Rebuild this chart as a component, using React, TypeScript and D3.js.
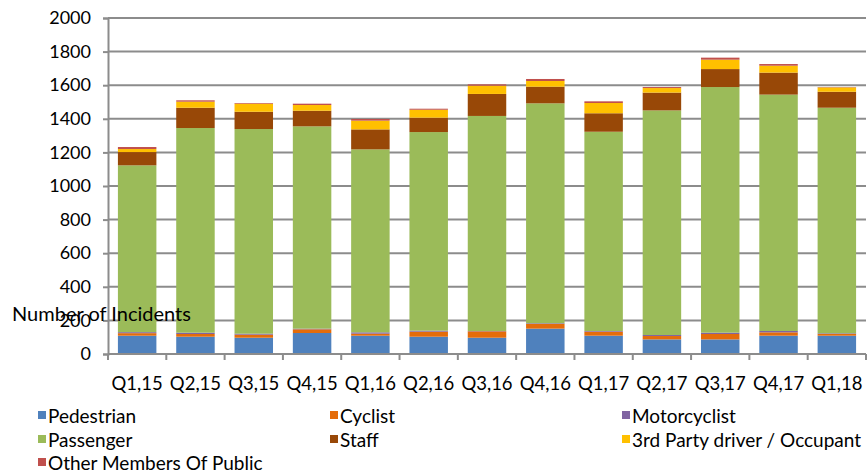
import React, { useRef, useEffect } from 'react';
import * as d3 from 'd3';

const quarters = ['Q1,15', 'Q2,15', 'Q3,15', 'Q4,15', 'Q1,16', 'Q2,16', 'Q3,16', 'Q4,16', 'Q1,17', 'Q2,17', 'Q3,17', 'Q4,17', 'Q1,18'];

const pedestrian = [109, 103, 97, 125, 109, 103, 97, 151, 109, 87, 87, 109, 109];
const cyclist = [15, 16, 18, 22, 12, 30, 38, 28, 24, 20, 32, 20, 10];
const motorcyclist = [6, 8, 6, 4, 8, 6, 2, 4, 4, 6, 8, 8, 4];
const passenger = [993, 1218, 1218, 1204, 1089, 1182, 1280, 1309, 1186, 1337, 1462, 1407, 1343];
const staff = [79, 121, 103, 93, 119, 86, 131, 99, 110, 106, 107, 131, 95];
const thirdParty = [18, 36, 48, 34, 52, 47, 49, 34, 61, 27, 56, 41, 26];
const otherPublic = [12, 8, 4, 8, 10, 6, 8, 12, 10, 6, 12, 10, 2];

const seriesNames = ['Pedestrian', 'Cyclist', 'Motorcyclist', 'Passenger', 'Staff', '3rd Party driver / Occupant', 'Other Members Of Public'];
const seriesValues = [pedestrian, cyclist, motorcyclist, passenger, staff, thirdParty, otherPublic];
const seriesColors = ['#4F81BD', '#E46C0A', '#8064A2', '#9BBB59', '#984807', '#FFC000', '#C0504D'];

const yTicks = [0, 200, 400, 600, 800, 1000, 1200, 1400, 1600, 1800, 2000];

const W = 868;
const H = 473;
const FONT = 'Lato, "Open Sans", sans-serif';

const App = () => {
  const ref = useRef<SVGSVGElement>(null);

  useEffect(() => {
    const svg = d3.select(ref.current);
    svg.selectAll('*').remove();

    const left = 108, right = 866, top = 18, bottom = 354;

    const x = d3.scaleBand().domain(quarters).range([left, right]).paddingInner(0.34).paddingOuter(0.17);
    const y = d3.scaleLinear().domain([0, 2000]).range([bottom, top]);

    // gridlines
    svg.append('g')
      .selectAll('line')
      .data(yTicks.slice(1))
      .enter().append('line')
      .attr('x1', left).attr('x2', right)
      .attr('y1', d => y(d)).attr('y2', d => y(d))
      .attr('stroke', '#8c8c8c').attr('stroke-width', 2);

    // stacked bars
    const rows = quarters.map((q, i) => {
      const r: any = { q };
      seriesNames.forEach((n, s) => { r[n] = seriesValues[s][i]; });
      return r;
    });
    const stacked = d3.stack().keys(seriesNames)(rows);

    svg.append('g')
      .selectAll('g')
      .data(stacked)
      .enter().append('g')
      .attr('fill', (d, i) => seriesColors[i])
      .selectAll('rect')
      .data(d => d)
      .enter().append('rect')
      .attr('x', (d: any) => x(d.data.q)!)
      .attr('width', x.bandwidth())
      .attr('y', d => y(d[1]))
      .attr('height', d => y(d[0]) - y(d[1]));

    // y axis
    const yAxis = svg.append('g')
      .attr('transform', `translate(${left},0)`)
      .call(d3.axisLeft(y).tickValues(yTicks).tickFormat(d3.format('d')).tickSize(5).tickPadding(12));
    yAxis.select('.domain').attr('stroke', '#8c8c8c').attr('stroke-width', 2);
    yAxis.selectAll('.tick line').attr('stroke', '#8c8c8c').attr('stroke-width', 2);
    yAxis.selectAll('.tick text').attr('font-family', FONT).attr('font-size', 18).attr('fill', '#000');

    // x axis
    const xg = svg.append('g');
    xg.append('line')
      .attr('x1', left).attr('x2', right)
      .attr('y1', bottom).attr('y2', bottom)
      .attr('stroke', '#8c8c8c').attr('stroke-width', 2);
    const step = x.step();
    xg.selectAll('line.tk')
      .data(d3.range(quarters.length + 1))
      .enter().append('line')
      .attr('class', 'tk')
      .attr('x1', i => left + i * step).attr('x2', i => left + i * step)
      .attr('y1', bottom).attr('y2', bottom + 6)
      .attr('stroke', '#8c8c8c').attr('stroke-width', 2);
    xg.selectAll('text')
      .data(quarters)
      .enter().append('text')
      .attr('x', d => x(d)! + x.bandwidth() / 2)
      .attr('y', 390)
      .attr('text-anchor', 'middle')
      .attr('font-family', FONT).attr('font-size', 18.5)
      .text(d => d);

    // axis title
    svg.append('text')
      .attr('x', 12).attr('y', 321)
      .attr('font-family', FONT).attr('font-size', 20)
      .text('Number of Incidents');

    // legend
    const colX = [38, 330, 622];
    const rowY = [416, 440, 463];
    const lg = svg.append('g')
      .selectAll('g')
      .data(seriesNames)
      .enter().append('g')
      .attr('transform', (d, i) => `translate(${colX[i % 3]},${rowY[Math.floor(i / 3)]})`);
    lg.append('rect')
      .attr('x', 0).attr('y', -5).attr('width', 8).attr('height', 8)
      .attr('fill', (d, i) => seriesColors[i]);
    lg.append('text')
      .attr('x', 10).attr('y', 7)
      .attr('font-family', FONT).attr('font-size', 19)
      .text(d => d);
  }, []);

  return <svg ref={ref} width={W} height={H} style={{ position: 'absolute', left: 0, top: 0 }} />;
};

export default App;
